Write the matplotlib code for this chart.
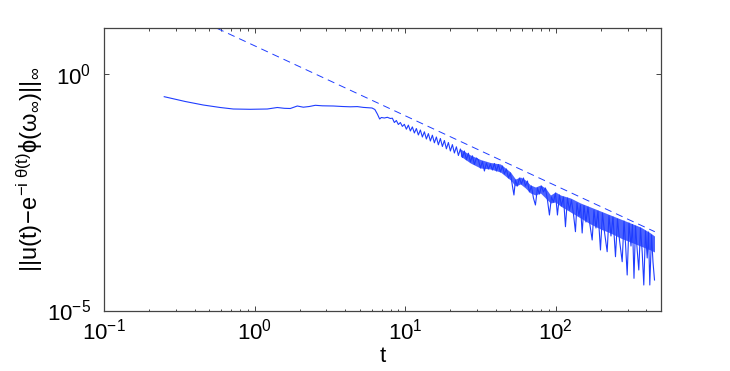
import numpy as np
import matplotlib
matplotlib.use("Agg")
import matplotlib.pyplot as plt
from matplotlib.ticker import FixedLocator, LogLocator, NullLocator, LogFormatterSciNotation, NullFormatter

# ---- data (stored as log10 exponents) ----
# smooth early part (t = 0.25 ... 8)
log10_t_early = [-0.6000, -0.4605, -0.3409, -0.2279, -0.1415, -0.0286, 0.0844, 0.1508, 0.1973, 0.2372,
                 0.2837, 0.3236, 0.3635, 0.4033, 0.4498, 0.5229, 0.5827, 0.6359, 0.6824, 0.7223,
                 0.7801, 0.7987, 0.8153, 0.8306, 0.8419, 0.8618, 0.8817, 0.9017, 0.9150]
log10_err_early = [-0.4830, -0.5844, -0.6584, -0.7112, -0.7429, -0.7492, -0.7429, -0.7112, -0.7281, -0.7323,
                   -0.6795, -0.7048, -0.6900, -0.6647, -0.6753, -0.6795, -0.6900, -0.6964, -0.6921, -0.7091,
                   -0.7217, -0.7534, -0.8485, -0.9541, -0.9224, -0.9330, -0.9182, -0.9436, -0.9372]

# oscillating middle part (t = 8 ... 30)
log10_t_mid = [0.9282, 0.9415, 0.9548, 0.9681, 0.9814, 0.9947, 1.0080, 1.0213, 1.0346, 1.0478,
               1.0611, 1.0744, 1.0877, 1.1010, 1.1143, 1.1276, 1.1409, 1.1542, 1.1674, 1.1807,
               1.1940, 1.2073, 1.2206, 1.2339, 1.2472, 1.2605, 1.2738, 1.2870, 1.3003, 1.3136,
               1.3269, 1.3402, 1.3535, 1.3668, 1.3801, 1.3934, 1.4066, 1.4199, 1.4332, 1.4465,
               1.4598, 1.4731]
log10_err_mid = [-1.0281, -0.9858, -1.0704, -1.0281, -1.1105, -1.0661, -1.1697, -1.0830, -1.2077, -1.1210,
                 -1.2499, -1.1549, -1.2922, -1.1866, -1.3344, -1.2246, -1.3767, -1.2626, -1.4190, -1.2964,
                 -1.4570, -1.3344, -1.4993, -1.3661, -1.5352, -1.4084, -1.5838, -1.4507, -1.6302, -1.4950,
                 -1.6725, -1.5415, -1.7253, -1.5880, -1.7676, -1.6302, -1.8162, -1.6767, -1.8627, -1.7317,
                 -1.9155, -1.7781]

# spiky late part (t = 30 ... 455)
log10_t_late = [1.4864, 1.4997, 1.5130, 1.5262, 1.5395, 1.5528, 1.5661, 1.5794, 1.5927, 1.6060,
                1.6193, 1.6326, 1.6458, 1.6591, 1.6724, 1.6857, 1.6990, 1.7123, 1.7223, 1.7322,
                1.7455, 1.7588, 1.7721, 1.7854, 1.7987, 1.8120, 1.8252, 1.8385, 1.8518, 1.8651,
                1.8784, 1.8917, 1.9050, 1.9183, 1.9316, 1.9449, 1.9581, 1.9714, 1.9847, 1.9980,
                2.0113, 2.0246, 2.0379, 2.0512, 2.0645, 2.0777, 2.0910, 2.1043, 2.1176, 2.1309,
                2.1409, 2.1542, 2.1641, 2.1754, 2.1874, 2.2007, 2.2140, 2.2272, 2.2419, 2.2538,
                2.2671, 2.2804, 2.2970, 2.3103, 2.3236, 2.3415, 2.3535, 2.3668, 2.3801, 2.3967,
                2.4100, 2.4233, 2.4412, 2.4532, 2.4631, 2.4744, 2.4864, 2.4997, 2.5096, 2.5196,
                2.5296, 2.5409, 2.5515, 2.5628, 2.5741, 2.5847, 2.5960, 2.6073, 2.6159, 2.6246,
                2.6359, 2.6458, 2.6558]
log10_err_late = [-1.8204, -1.9894, -1.8521, -2.0528, -1.8838, -2.0105, -1.9049, -2.0317, -1.8943, -2.0528,
                  -1.9155, -2.0739, -1.9472, -2.1162, -2.0105, -2.2007, -2.0951, -2.3697, -2.5598, -2.2429,
                  -2.3697, -2.2007, -2.3275, -2.2007, -2.3697, -2.2641, -2.4965, -2.3697, -2.6232, -2.7711,
                  -2.4120, -2.5387, -2.3697, -2.4965, -2.4120, -2.6655, -2.9824, -2.6021, -2.7078, -2.5176,
                  -2.9824, -2.5598, -2.7923, -2.6021, -3.2296, -2.6232, -2.8768, -2.6655, -2.9613, -3.3353,
                  -2.7289, -3.0036, -2.7711, -3.3627, -2.7817, -3.1304, -2.8134, -3.1937, -3.5106, -2.8768,
                  -3.2571, -2.8979, -3.7219, -2.9402, -3.3416, -3.7578, -2.9930, -3.4261, -3.0247, -3.8634,
                  -3.0669, -3.5106, -3.9691, -3.1092, -3.5740, -4.2501, -3.1515, -3.6374, -3.1831, -4.3198,
                  -3.2148, -3.7219, -4.1445, -3.2571, -3.7642, -4.4614, -3.3205, -3.8909, -3.3416, -4.4614,
                  -3.4050, -3.9754, -4.3557]

# dense oscillation band (upper / lower edge of the filled-looking region)
log10_t_band = [1.3668, 1.4332, 1.4997, 1.5661, 1.6326, 1.6990, 1.7322, 1.7654, 1.7987, 1.8319,
                1.8651, 1.8983, 1.9316, 1.9648, 1.9980, 2.0312, 2.0977, 2.1641, 2.2306, 2.2970,
                2.3635, 2.4299, 2.4963, 2.5628, 2.6292, 2.6558]
log10_band_upper = [-1.5880, -1.7148, -1.8098, -1.8732, -1.9049, -2.0739, -2.2218, -2.1796, -2.2429, -2.3486,
                    -2.3909, -2.3486, -2.4120, -2.5598, -2.4965, -2.5598, -2.6232, -2.7289, -2.8134, -2.8979,
                    -2.9824, -3.0669, -3.1515, -3.2360, -3.3627, -3.4261]
log10_band_lower = [-1.7359, -1.8838, -1.9894, -2.0105, -2.0739, -2.2429, -2.3697, -2.3275, -2.4120, -2.5176,
                    -2.5598, -2.5176, -2.6232, -2.7289, -2.7078, -2.7923, -2.9190, -3.0458, -3.1725, -3.2782,
                    -3.3627, -3.4684, -3.5529, -3.6374, -3.7219, -3.7642]

# dashed reference slope (end points)
ref_t = [0.5625, 454.8]
ref_err = [9.17, 4.62e-4]

x_major = [0.1, 1, 10, 100]
y_major = [1e-5, 1]
x_limits = (0.1, 500)
y_limits = (1e-5, 9.3)

# ---- style ----
plt.rcParams.update({
    "font.family": ["Liberation Sans", "DejaVu Sans"],
    "mathtext.fontset": "custom",
    "mathtext.rm": "Liberation Sans",
    "mathtext.it": "Liberation Sans",
    "mathtext.bf": "Liberation Sans:bold",
    "mathtext.sf": "Liberation Sans",
    "mathtext.default": "regular",
    "mathtext.fallback": "stixsans",
    "lines.scale_dashes": False,
})

line_color = "#1f3dff"

fig = plt.figure(figsize=(7.3, 3.71), dpi=100)
ax = fig.add_axes([104 / 730, 1 - 310.5 / 371, (661 - 104) / 730, (310.5 - 28) / 371])

t_vals = 10 ** np.array(log10_t_early + log10_t_mid + log10_t_late)
err_vals = 10 ** np.array(log10_err_early + log10_err_mid + log10_err_late)

ax.fill_between(10 ** np.array(log10_t_band), 10 ** np.array(log10_band_lower),
                10 ** np.array(log10_band_upper), color=line_color, alpha=0.8, lw=0)
ax.plot(t_vals, err_vals, color=line_color, lw=0.8)
ax.plot(ref_t, ref_err, color=line_color, lw=0.7, dashes=(5.2, 3.6))

ax.set_xscale("log")
ax.set_yscale("log")
ax.set_xlim(*x_limits)
ax.set_ylim(*y_limits)

ax.xaxis.set_major_locator(FixedLocator(x_major))
ax.xaxis.set_minor_locator(LogLocator(base=10, subs=np.arange(2, 10), numticks=20))
ax.xaxis.set_minor_formatter(NullFormatter())
ax.xaxis.set_major_formatter(LogFormatterSciNotation())
ax.yaxis.set_major_locator(FixedLocator(y_major))
ax.yaxis.set_minor_locator(NullLocator())
ax.yaxis.set_major_formatter(LogFormatterSciNotation())

for sp in ax.spines.values():
    sp.set_color("#444444")
    sp.set_linewidth(0.9)

ax.tick_params(which="both", direction="in", top=True, right=True, color="#444444", width=0.7)
ax.tick_params(which="major", length=3.6, labelsize=16)
ax.tick_params(which="minor", length=1.8)
ax.tick_params(axis="x", which="major", pad=6)
ax.tick_params(axis="y", which="major", pad=9)

ax.set_xlabel("t", fontsize=16, labelpad=1)
ax.set_ylabel(r"$||u(t)\!-\!e^{-i\ \theta(t)}\phi(\omega_{\infty})||_{\infty}$", fontsize=17, labelpad=2)

fig.savefig("out.png", dpi=100)
